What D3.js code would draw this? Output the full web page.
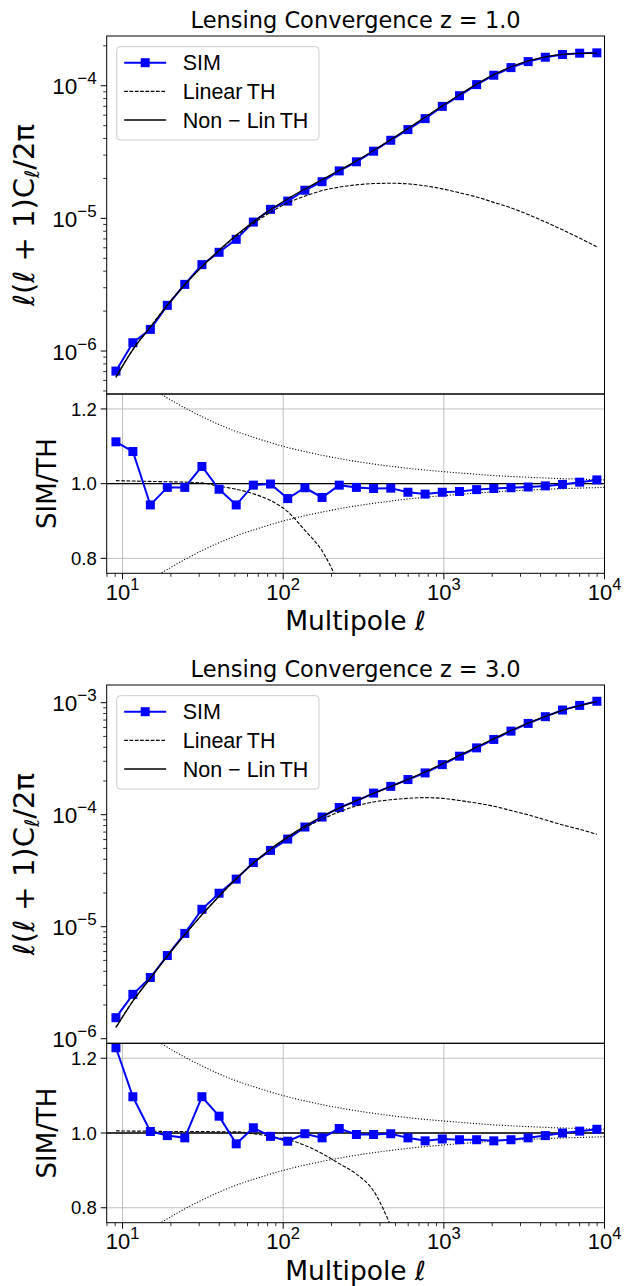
<!DOCTYPE html>
<html><head><meta charset="utf-8">
<script src="https://cdn.jsdelivr.net/npm/d3@7"></script>
<style>body{margin:0;background:#fff;} svg{display:block}</style>
</head><body><svg id="c" width="626" height="1286"></svg>
<script>
// ---------------- data ----------------
const ell = [9.1, 11.6, 14.9, 19.0, 24.4, 31.2, 39.9, 51.0, 65.2, 83.4, 106.7, 136.5, 174.6, 223.3, 285.6, 365.3, 467.3, 597.7, 764.5, 977.9, 1251, 1600, 2046, 2618, 3348, 4283, 5478, 7007, 8963];

const simZ1 = [7.06e-7, 1.155e-6, 1.456e-6, 2.21e-6, 3.18e-6, 4.48e-6, 5.55e-6, 6.95e-6, 9.38e-6, 1.17e-5, 1.35e-5, 1.63e-5, 1.89e-5, 2.28e-5, 2.67e-5, 3.21e-5, 3.88e-5, 4.67e-5, 5.65e-5, 6.99e-5, 8.41e-5, 1.02e-4, 1.20e-4, 1.37e-4, 1.52e-4, 1.64e-4, 1.72e-4, 1.76e-4, 1.77e-4];
const nonZ1 = [6.31e-7, 1.023e-6, 1.514e-6, 2.213e-6, 3.162e-6, 4.315e-6, 5.754e-6, 7.447e-6, 9.419e-6, 1.164e-5, 1.406e-5, 1.667e-5, 1.959e-5, 2.301e-5, 2.716e-5, 3.251e-5, 3.926e-5, 4.764e-5, 5.794e-5, 7.047e-5, 8.551e-5, 1.028e-4, 1.213e-4, 1.390e-4, 1.542e-4, 1.652e-4, 1.722e-4, 1.754e-4, 1.762e-4];
const linZ1 = [6.36e-7, 1.030e-6, 1.523e-6, 2.224e-6, 3.175e-6, 4.32e-6, 5.72e-6, 7.34e-6, 9.16e-6, 1.112e-5, 1.31e-5, 1.47e-5, 1.62e-5, 1.72e-5, 1.79e-5, 1.83e-5, 1.84e-5, 1.82e-5, 1.76e-5, 1.67e-5, 1.56e-5, 1.45e-5, 1.32e-5, 1.20e-5, 1.07e-5, 9.4e-6, 8.2e-6, 7.1e-6, 6.1e-6];
const ratioZ1 = [1.112, 1.086, 0.943, 0.990, 0.990, 1.046, 0.985, 0.943, 0.996, 0.999, 0.960, 0.989, 0.963, 0.996, 0.990, 0.987, 0.988, 0.977, 0.972, 0.977, 0.979, 0.984, 0.987, 0.989, 0.991, 0.994, 0.998, 1.004, 1.010];
const linRatioZ1 = [1.008, 1.007, 1.006, 1.005, 1.004, 1.002, 0.993, 0.985, 0.973, 0.955, 0.925, 0.875, 0.82, 0.73, 0.62];

const simZ3 = [1.54e-6, 2.49e-6, 3.52e-6, 5.53e-6, 8.71e-6, 1.43e-5, 1.99e-5, 2.66e-5, 3.74e-5, 4.80e-5, 6.06e-5, 7.76e-5, 9.53e-5, 1.16e-4, 1.32e-4, 1.56e-4, 1.79e-4, 2.06e-4, 2.36e-4, 2.80e-4, 3.33e-4, 3.95e-4, 4.70e-4, 5.57e-4, 6.53e-4, 7.50e-4, 8.60e-4, 9.46e-4, 1.03e-3];
const nonZ3 = [1.259e-6, 2.163e-6, 3.467e-6, 5.47e-6, 8.47e-6, 1.274e-5, 1.871e-5, 2.679e-5, 3.698e-5, 4.932e-5, 6.339e-5, 7.925e-5, 9.638e-5, 1.146e-4, 1.337e-4, 1.549e-4, 1.786e-4, 2.065e-4, 2.410e-4, 2.844e-4, 3.381e-4, 4.027e-4, 4.786e-4, 5.649e-4, 6.577e-4, 7.551e-4, 8.551e-4, 9.419e-4, 1.023e-3];
const linZ3 = [1.267e-6, 2.174e-6, 3.484e-6, 5.49e-6, 8.50e-6, 1.279e-5, 1.877e-5, 2.687e-5, 3.691e-5, 4.888e-5, 6.225e-5, 7.66e-5, 9.11e-5, 1.06e-4, 1.20e-4, 1.30e-4, 1.36e-4, 1.40e-4, 1.42e-4, 1.40e-4, 1.34e-4, 1.27e-4, 1.19e-4, 1.09e-4, 9.97e-5, 9.0e-5, 8.1e-5, 7.4e-5, 6.7e-5];
const ratioZ3 = [1.228, 1.097, 1.004, 0.993, 0.987, 1.097, 1.045, 0.971, 1.014, 0.991, 0.978, 0.998, 0.987, 1.012, 0.996, 0.996, 0.998, 0.987, 0.979, 0.984, 0.982, 0.982, 0.979, 0.982, 0.987, 0.993, 1.000, 1.005, 1.010];
const linRatioZ3 = [1.006, 1.005, 1.005, 1.004, 1.004, 1.004, 1.003, 1.003, 0.998, 0.991, 0.982, 0.967, 0.945, 0.918, 0.89, 0.845, 0.752, 0.64];

// error band (dotted)
const bandEll = [8, 10, 15, 20, 30, 50, 70, 100, 150, 200, 300, 500, 700, 1000, 1500, 2000, 3000, 5000, 7000, 10000];
const bandUpper = [1.354, 1.316, 1.258, 1.224, 1.183, 1.141, 1.120, 1.100, 1.082, 1.071, 1.058, 1.045, 1.038, 1.032, 1.026, 1.022, 1.018, 1.014, 1.012, 1.010];
const bandLower = [0.646, 0.684, 0.742, 0.776, 0.817, 0.859, 0.880, 0.900, 0.918, 0.929, 0.942, 0.955, 0.962, 0.968, 0.974, 0.978, 0.982, 0.986, 0.988, 0.990];

const titles = ["Lensing Convergence z = 1.0", "Lensing Convergence z = 3.0"];
const xTickValues = [10, 100, 1000, 10000];
const xTickExps = ["1", "2", "3", "4"];
const ratioTicks = [0.8, 1.0, 1.2];
const ratioTickLabels = ["0.8", "1.0", "1.2"];
const legendLabels = ["SIM", "Linear\u2009TH", "Non \u2212 Lin\u2009TH"];

// ---------------- drawing ----------------
const svg = d3.select("#c");
const X0 = 106.7, X1 = 604.5;
const x = d3.scaleLog().domain([7.97, 10000]).range([X0, X1]);
const BLUE = "#0000ff";
const TICKFONT = "'Liberation Sans', Arial, Helvetica, sans-serif";
const LABELFONT = "'DejaVu Sans', sans-serif";
const MS = 9; // marker size

const figs = [
  {top: 36, mid: 394, bot: 573.3, ylog: [-6.324, -3.625], upExps: [-6, -5, -4],
   sim: simZ1, non: nonZ1, lin: linZ1, ratio: ratioZ1, linRatio: linRatioZ1, title: titles[0], titleY: 28.3, tickY: 600, xlabY: 630},
  {top: 685, mid: 1043.3, bot: 1222.7, ylog: [-6.041, -2.842], upExps: [-6, -5, -4, -3],
   sim: simZ3, non: nonZ3, lin: linZ3, ratio: ratioZ3, linRatio: linRatioZ3, title: titles[1], titleY: 676.7, tickY: 1249, xlabY: 1280}
];

figs.forEach((f, fi) => {
  const g = svg.append("g");
  const yU = d3.scaleLog().domain([Math.pow(10, f.ylog[0]), Math.pow(10, f.ylog[1])]).range([f.mid, f.top]);
  const yR = d3.scaleLinear().domain([0.76, 1.24]).range([f.bot, f.mid]);

  const cu = "clipU" + fi, cr = "clipR" + fi;
  const defs = svg.append("defs");
  defs.append("clipPath").attr("id", cu).append("rect").attr("x", X0).attr("y", f.top).attr("width", X1 - X0).attr("height", f.mid - f.top);
  defs.append("clipPath").attr("id", cr).append("rect").attr("x", X0).attr("y", f.mid).attr("width", X1 - X0).attr("height", f.bot - f.mid);

  // title
  g.append("text").attr("x", (X0 + X1) / 2).attr("y", f.titleY).attr("text-anchor", "middle")
    .style("font-family", LABELFONT).style("font-size", "22.5px").text(f.title);

  // ---------- upper panel ----------
  const up = g.append("g").attr("clip-path", `url(#${cu})`);
  const lineU = d3.line().x((d, i) => x(ell[i])).y(d => yU(d));
  const smoothU = d3.line().x((d, i) => x(ell[i])).y(d => yU(d)).curve(d3.curveMonotoneX);
  up.append("path").attr("d", lineU(f.sim)).attr("fill", "none").attr("stroke", BLUE).attr("stroke-width", 2);
  up.selectAll("rect.m").data(f.sim).enter().append("rect")
    .attr("x", (d, i) => x(ell[i]) - MS / 2).attr("y", d => yU(d) - MS / 2).attr("width", MS).attr("height", MS).attr("fill", BLUE);
  up.append("path").attr("d", smoothU(f.lin)).attr("fill", "none").attr("stroke", "#000").attr("stroke-width", 1.1).attr("stroke-dasharray", "3.7,1.6");
  up.append("path").attr("d", smoothU(f.non)).attr("fill", "none").attr("stroke", "#000").attr("stroke-width", 1.3);

  // upper y ticks
  const ya = g.append("g");
  f.upExps.forEach(e => {
    const v = Math.pow(10, e);
    const yy = yU(v);
    if (yy >= f.top - 0.5 && yy <= f.mid + 0.5) {
      ya.append("line").attr("x1", X0 - 6).attr("x2", X0).attr("y1", yy).attr("y2", yy).attr("stroke", "#000").attr("stroke-width", 1);
      const t = ya.append("text").attr("x", X0 - 10).attr("y", yy + 8.6).attr("text-anchor", "end")
        .style("font-family", TICKFONT).style("font-size", "22.5px");
      t.append("tspan").text("10");
      t.append("tspan").attr("dy", -10).style("font-size", "17px").text("\u2212" + Math.abs(e));
    }
  });
  for (let e = -7; e <= -2; e++) {
    for (let k = 2; k <= 9; k++) {
      const v = k * Math.pow(10, e);
      const yy = yU(v);
      if (yy >= f.top && yy <= f.mid) {
        ya.append("line").attr("x1", X0 - 3.5).attr("x2", X0).attr("y1", yy).attr("y2", yy).attr("stroke", "#000").attr("stroke-width", 0.8);
      }
    }
  }

  // upper ylabel
  const yl = g.append("text").attr("transform", `translate(24,${(f.top + f.mid) / 2}) rotate(-90)`)
    .attr("text-anchor", "middle").attr("dy", "0.36em")
    .style("font-family", LABELFONT).style("font-size", "29px");
  yl.append("tspan").style("font-style", "italic").text("\u2113");
  yl.append("tspan").text("(");
  yl.append("tspan").style("font-style", "italic").text("\u2113");
  yl.append("tspan").text(" + 1)C");
  yl.append("tspan").style("font-style", "italic").style("font-size", "20px").attr("dy", 5).text("\u2113");
  yl.append("tspan").attr("dy", -5).text("/2\u03c0");

  // legend
  const lg = g.append("g").attr("transform", `translate(116.7,${f.top + 10.7})`);
  lg.append("rect").attr("x", 0).attr("y", 0).attr("width", 202.3).attr("height", 93.3).attr("rx", 3.5)
    .attr("fill", "#fff").attr("fill-opacity", 0.8).attr("stroke", "#cccccc").attr("stroke-width", 1);
  const rows = [16, 44.7, 73.3];
  lg.append("line").attr("x1", 7.5).attr("x2", 49.5).attr("y1", rows[0]).attr("y2", rows[0]).attr("stroke", BLUE).attr("stroke-width", 2);
  lg.append("rect").attr("x", 28.5 - MS / 2).attr("y", rows[0] - MS / 2).attr("width", MS).attr("height", MS).attr("fill", BLUE);
  lg.append("line").attr("x1", 7.5).attr("x2", 49.5).attr("y1", rows[1]).attr("y2", rows[1]).attr("stroke", "#000").attr("stroke-width", 1.1).attr("stroke-dasharray", "3.7,1.6");
  lg.append("line").attr("x1", 7.5).attr("x2", 49.5).attr("y1", rows[2]).attr("y2", rows[2]).attr("stroke", "#000").attr("stroke-width", 1.3);
  legendLabels.forEach((s, i) => {
    lg.append("text").attr("x", 66).attr("y", rows[i] + 7.6).style("font-family", TICKFONT).style("font-size", "21.5px").text(s);
  });

  // ---------- ratio panel ----------
  const rp = g.append("g");
  xTickValues.slice(0, 3).forEach(v => {
    rp.append("line").attr("x1", x(v)).attr("x2", x(v)).attr("y1", f.mid).attr("y2", f.bot).attr("stroke", "#b0b0b0").attr("stroke-width", 0.8);
  });
  ratioTicks.forEach(v => {
    rp.append("line").attr("x1", X0).attr("x2", X1).attr("y1", yR(v)).attr("y2", yR(v)).attr("stroke", "#b0b0b0").attr("stroke-width", 0.8);
  });
  const rc = rp.append("g").attr("clip-path", `url(#${cr})`);
  const bandLine = d3.line().x((d, i) => x(bandEll[i])).y(d => yR(d)).curve(d3.curveMonotoneX);
  rc.append("path").attr("d", bandLine(bandUpper)).attr("fill", "none").attr("stroke", "#000").attr("stroke-width", 1.1).attr("stroke-dasharray", "1.1,1.8");
  rc.append("path").attr("d", bandLine(bandLower)).attr("fill", "none").attr("stroke", "#000").attr("stroke-width", 1.1).attr("stroke-dasharray", "1.1,1.8");
  const lr = d3.line().x((d, i) => x(ell[i])).y(d => yR(d)).curve(d3.curveMonotoneX);
  rc.append("path").attr("d", lr(f.linRatio)).attr("fill", "none").attr("stroke", "#000").attr("stroke-width", 1.1).attr("stroke-dasharray", "3.7,1.6");
  rc.append("line").attr("x1", X0).attr("x2", X1).attr("y1", yR(1)).attr("y2", yR(1)).attr("stroke", "#000").attr("stroke-width", 1.3);
  const sr = d3.line().x((d, i) => x(ell[i])).y(d => yR(d));
  rc.append("path").attr("d", sr(f.ratio)).attr("fill", "none").attr("stroke", BLUE).attr("stroke-width", 2);
  rc.selectAll("rect.m").data(f.ratio).enter().append("rect")
    .attr("x", (d, i) => x(ell[i]) - MS / 2).attr("y", d => yR(d) - MS / 2).attr("width", MS).attr("height", MS).attr("fill", BLUE);

  ratioTicks.forEach((v, i) => {
    rp.append("line").attr("x1", X0 - 6).attr("x2", X0).attr("y1", yR(v)).attr("y2", yR(v)).attr("stroke", "#000").attr("stroke-width", 1);
    rp.append("text").attr("x", X0 - 10).attr("y", yR(v) + 6.6).attr("text-anchor", "end")
      .style("font-family", TICKFONT).style("font-size", "18.5px").text(ratioTickLabels[i]);
  });
  xTickValues.forEach((v, i) => {
    rp.append("line").attr("x1", x(v)).attr("x2", x(v)).attr("y1", f.bot).attr("y2", f.bot + 6).attr("stroke", "#000").attr("stroke-width", 1);
    const t = rp.append("text").attr("x", x(v)).attr("y", f.tickY).attr("text-anchor", "middle")
      .style("font-family", TICKFONT).style("font-size", "22px");
    t.append("tspan").text("10");
    t.append("tspan").attr("dy", -10).style("font-size", "16.5px").text(xTickExps[i]);
  });
  for (let e = 0; e <= 3; e++) {
    for (let k = 2; k <= 9; k++) {
      const v = k * Math.pow(10, e);
      const xx = x(v);
      if (xx >= X0 && xx <= X1) {
        rp.append("line").attr("x1", xx).attr("x2", xx).attr("y1", f.bot).attr("y2", f.bot + 3.5).attr("stroke", "#000").attr("stroke-width", 0.8);
      }
    }
  }
  rp.append("text").attr("transform", `translate(46.7,${(f.mid + f.bot) / 2}) rotate(-90)`)
    .attr("text-anchor", "middle").attr("dy", "0.36em")
    .style("font-family", LABELFONT).style("font-size", "26px").text("SIM/TH");
  const xl = rp.append("text").attr("x", (X0 + X1) / 2).attr("y", f.xlabY).attr("text-anchor", "middle")
    .style("font-family", LABELFONT).style("font-size", "26.5px");
  xl.append("tspan").text("Multipole ");
  xl.append("tspan").style("font-style", "italic").text("\u2113");

  g.append("rect").attr("x", X0).attr("y", f.top).attr("width", X1 - X0).attr("height", f.mid - f.top).attr("fill", "none").attr("stroke", "#000").attr("stroke-width", 1);
  g.append("rect").attr("x", X0).attr("y", f.mid).attr("width", X1 - X0).attr("height", f.bot - f.mid).attr("fill", "none").attr("stroke", "#000").attr("stroke-width", 1);
});
</script>
</body></html>
